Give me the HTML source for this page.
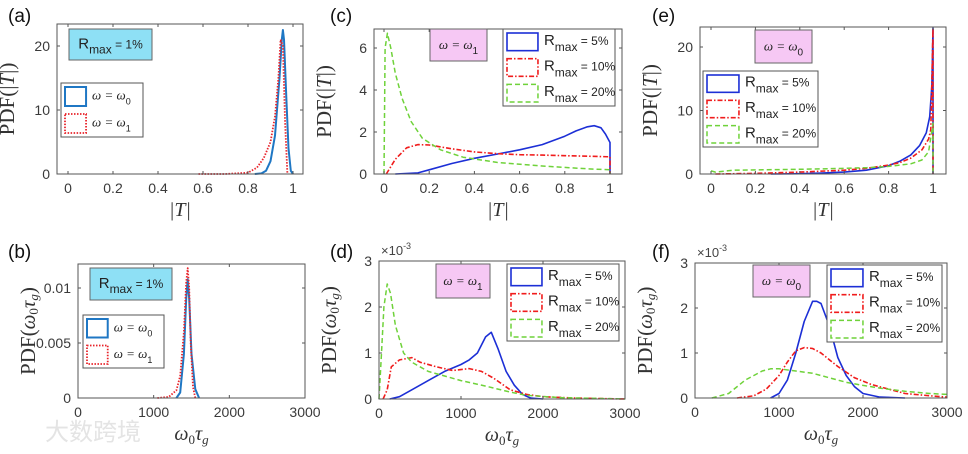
<!DOCTYPE html>
<html><head><meta charset="utf-8"><style>
body{margin:0;background:#fff;}
svg{display:block;font-family:"Liberation Sans",sans-serif;}
</style></head><body>
<svg id="fig" width="968" height="454" viewBox="0 0 968 454" xmlns="http://www.w3.org/2000/svg">
<text x="45" y="440" font-size="24" fill="#e4e4e4" font-family="Liberation Sans, Noto Sans CJK SC, sans-serif">大数跨境</text>
</svg>
<script>
// ---------- data ----------
const aX0=[0.83,0.86,0.88,0.9,0.92,0.94,0.95,0.955,0.96,0.97,0.98,0.99,1.0];
const aY0=[0,0.1,0.5,2,6,15,21,22.5,21,12,4,0.5,0];
const aX1=[0.58,0.7,0.8,0.84,0.87,0.9,0.92,0.935,0.945,0.955,0.965,0.975];
const aY1=[0,0,0.2,1,2.5,5,9,15,21,20,8,0];
const cX5=[0.05,0.15,0.2,0.3,0.4,0.5,0.6,0.7,0.8,0.85,0.9,0.93,0.96,0.98,1.0,1.0];
const cY5=[0,0.05,0.2,0.5,0.75,0.95,1.15,1.4,1.8,2.05,2.25,2.3,2.2,1.9,1.5,0];
const cX10=[0.01,0.05,0.1,0.15,0.2,0.3,0.4,0.5,0.6,0.7,0.8,0.9,1,1];
const cY10=[0,0.7,1.25,1.4,1.38,1.2,1.05,0.97,0.92,0.9,0.87,0.85,0.82,0];
const cX20=[0,0.005,0.015,0.03,0.05,0.08,0.12,0.17,0.25,0.35,0.5,0.7,0.9,1,1];
const cY20=[0,6,6.7,6,4.8,3.6,2.5,1.7,1.15,0.8,0.55,0.38,0.25,0.2,0];
const eX5=[0.27,0.4,0.5,0.6,0.7,0.8,0.85,0.9,0.94,0.97,0.985,0.995,1.0,1.0];
const eY5=[0,0.05,0.15,0.3,0.6,1.3,2,3,4.5,6.5,9,14,23,0];
const eX10=[0.02,0.2,0.4,0.6,0.7,0.8,0.85,0.9,0.95,0.98,0.99,1,1];
const eY10=[0,0.1,0.3,0.6,0.9,1.4,1.8,2.5,3.8,5.5,7,23,0];
const eX20=[0,0.02,0.1,0.3,0.5,0.7,0.8,0.9,0.95,0.98,1,1];
const eY20=[0.5,0.3,0.6,0.7,0.8,1,1.2,1.6,2.2,3.5,8,0];
const bX0=[1300,1350,1400,1430,1450,1470,1500,1550,1600];
const bY0=[0,0.0005,0.004,0.009,0.0108,0.009,0.004,0.0008,0];
const bX1=[1050,1200,1300,1350,1400,1430,1450,1470,1490,1520,1550];
const bY1=[0,0.0001,0.0007,0.002,0.006,0.0105,0.0118,0.01,0.005,0.001,0];
const dX5=[130,250,400,600,800,1000,1100,1200,1300,1370,1450,1550,1650,1750,1850,2000];
const dY5=[0,0.05,0.2,0.4,0.6,0.75,0.85,1.0,1.35,1.45,1.1,0.6,0.3,0.1,0.02,0];
const dX10=[50,100,150,250,400,500,700,900,1100,1250,1400,1600,1800,2000,2400,3000];
const dY10=[0,0.2,0.7,0.85,0.9,0.8,0.7,0.62,0.66,0.6,0.45,0.2,0.1,0.05,0.02,0];
const dX20=[0,30,60,100,140,200,300,400,600,800,1000,1300,1600,1800,2200,3000];
const dY20=[0,1,2,2.5,2.3,1.6,1.0,0.8,0.6,0.5,0.4,0.28,0.15,0.08,0.03,0];
const fX5=[900,1000,1100,1200,1300,1400,1450,1500,1600,1700,1800,1900,2000,2200,2500];
const fY5=[0,0.1,0.4,1.0,1.7,2.15,2.15,2.1,1.6,0.9,0.5,0.25,0.1,0.02,0];
const fX10=[500,700,850,1000,1100,1200,1300,1400,1500,1700,1900,2100,2300,2500,2800,3000];
const fY10=[0,0.05,0.2,0.5,0.8,1.05,1.12,1.1,1.0,0.7,0.45,0.3,0.2,0.1,0.05,0.02];
const fX20=[200,400,600,800,900,1000,1200,1400,1600,1800,2000,2200,2500,2800,3000];
const fY20=[0,0.1,0.4,0.6,0.65,0.65,0.6,0.55,0.45,0.35,0.28,0.22,0.15,0.1,0.08];
const tTicksX=[0,0.2,0.4,0.6,0.8,1];
const tauTicksX=[0,1000,2000,3000];

const NS="http://www.w3.org/2000/svg";
const svg=document.getElementById('fig');
function mk(tag,attrs,parent,txt){const e=document.createElementNS(NS,tag);for(const k in attrs)e.setAttribute(k,attrs[k]);if(txt!==undefined)e.textContent=txt;(parent||svg).appendChild(e);return e;}
const STY={
 blue0:{stroke:'#1f77c4',dash:'',w:2},
 red1:{stroke:'#e8232a',dash:'1.5 1.5',w:1.8},
 b5:{stroke:'#1c2fd6',dash:'',w:1.6},
 r10:{stroke:'#f01c1c',dash:'5 2 1.5 2',w:1.6},
 g20:{stroke:'#6fd23a',dash:'5 3',w:1.5}
};
function panel(p){
 const g=mk('g',{});
 
 
 const L=p.box[0],T=p.box[1],R=p.box[2],B=p.box[3];
 const sx=v=>p.x0px+(v-p.xmin)/(p.xmax-p.xmin)*(p.x1px-p.x0px);
 const sy=v=>p.y0px-(v-p.ymin)/(p.ymax-p.ymin)*(p.y0px-p.y1px);
 p.series.forEach(s=>{
  const st=STY[s.sty];
  const pts=s.x.map((v,i)=>sx(v).toFixed(1)+','+sy(s.y[i]).toFixed(1)).join(' ');
  const pl=mk('polyline',{points:pts,fill:'none',stroke:st.stroke,'stroke-width':st.w,'stroke-dasharray':st.dash,'stroke-linejoin':'round'},g);
  
  
 });
 const r=mk('rect',{x:L,y:T,width:R-L,height:B-T,fill:'none',stroke:'#555','stroke-width':1},g);
 
 
 p.xt.forEach(v=>{const x=sx(v);
  mk('line',{x1:x,y1:B,x2:x,y2:B-3,stroke:'#555'},g);mk('line',{x1:x,y1:T,x2:x,y2:T+3,stroke:'#555'},g);
  const t=mk('text',{x:x,y:B+19,'font-size':14,'text-anchor':'middle',fill:'#3a3a3a'},g,String(v));
  
  
 });
 p.yt.forEach((v,i)=>{const y=sy(v);
  mk('line',{x1:L,y1:y,x2:L+3,y2:y,stroke:'#555'},g);mk('line',{x1:R,y1:y,x2:R-3,y2:y,stroke:'#555'},g);
  const t=mk('text',{x:L-7,y:y+5,'font-size':14,'text-anchor':'end',fill:'#3a3a3a'},g,p.ytl[i]);
  
  
 });
 const pl=mk('text',{x:p.lab[0],y:p.lab[1],'font-size':19,fill:'#111'},g,'('+p.id+')');
 
 
 const xt=mk('text',{x:(L+R)/2,y:B+42,'font-size':20,'text-anchor':'middle','font-family':'Liberation Serif, serif','font-style':'italic',fill:'#333'},g);
 
 
 if(p.tau){xt.innerHTML='ω<tspan font-size="13" dy="4" font-style="normal">0</tspan><tspan dy="-4">τ</tspan><tspan font-size="13" dy="4">g</tspan>';}
 else xt.textContent='|T|';
 const cy=(T+B)/2, cx=L-43;
 const yt=mk('text',{x:cx,y:cy,'font-size':21,'text-anchor':'middle','font-family':'Liberation Serif, serif',fill:'#333',transform:`rotate(-90 ${cx} ${cy})`},g);
 
 
 if(p.tau) yt.innerHTML='PDF(<tspan font-style="italic">ω</tspan><tspan font-size="13" dy="3">0</tspan><tspan dy="-3" font-style="italic">τ</tspan><tspan font-size="13" dy="3" font-style="italic">g</tspan><tspan dy="-3">)</tspan>';
 else yt.innerHTML='PDF(|<tspan font-style="italic">T</tspan>|)';
 if(p.exp){const e=mk('text',{x:L+2,y:T-6,'font-size':13,fill:'#444'},g);e.innerHTML='×10<tspan font-size="9" dy="-6">-3</tspan>';
  
  }
 const a=p.ann;
 const ab=mk('rect',{x:a.b[0],y:a.b[1],width:a.b[2]-a.b[0],height:a.b[3]-a.b[1],fill:a.fill,stroke:'#666'},g);
 
 
 const at=mk('text',{x:(a.b[0]+a.b[2])/2,y:(a.b[1]+a.b[3])/2+4,'text-anchor':'middle','font-size':a.rmax?15:13,fill:'#222'},g);
 
 
 if(a.rmax) at.innerHTML='R<tspan font-size="12" dy="5">max</tspan><tspan dy="-5" font-size="12"> = 1%</tspan>';
 else at.innerHTML='<tspan font-style="italic" font-family="Liberation Serif, serif">ω = ω</tspan><tspan font-size="10" dy="5">'+a.w+'</tspan>';
 const lg=p.leg, n=lg.items.length, lh=(lg.b[3]-lg.b[1])/n;
 const lr=mk('rect',{x:lg.b[0],y:lg.b[1],width:lg.b[2]-lg.b[0],height:lg.b[3]-lg.b[1],fill:'#fff',stroke:'#555'},g);
 
 
 lg.items.forEach((it,i)=>{
  const st=STY[it.sty];const y0=lg.b[1]+i*lh;
  const sw=(lg.b[2]-lg.b[0])*0.33;
  const s=mk('rect',{x:lg.b[0]+4,y:y0+4,width:sw-6,height:lh-8,fill:'none',stroke:st.stroke,'stroke-width':st.w,'stroke-dasharray':st.dash},g);
  
  
  const t=mk('text',{x:lg.b[0]+sw+4,y:y0+lh/2+3,'font-size':it.r?15:13,fill:'#222'},g);
  
  
  if(it.r) t.innerHTML='R<tspan font-size="12" dy="6">max</tspan><tspan dy="-6" font-size="12"> = '+it.r+'</tspan>';
  else t.innerHTML='<tspan font-style="italic" font-family="Liberation Serif, serif">ω = ω</tspan><tspan font-size="9" dy="5">'+it.w+'</tspan>';
 });
}
const r3=[{sty:'b5',r:'5%'},{sty:'r10',r:'10%'},{sty:'g20',r:'20%'}];
const w2=[{sty:'blue0',w:'0'},{sty:'red1',w:'1'}];
panel({id:'a',box:[57,24,303,174],xmin:0,xmax:1,x0px:68,x1px:293,ymin:0,ymax:20,y0px:174,y1px:46,
 xt:tTicksX,yt:[0,10,20],ytl:['0','10','20'],lab:[8,22],
 series:[{name:'omega0',sty:'blue0',x:aX0,y:aY0},{name:'omega1',sty:'red1',x:aX1,y:aY1}],
 ann:{b:[69,29,152,60],fill:'#8ee0f5',rmax:true},leg:{b:[61,83,143,137],items:w2}});
panel({id:'c',box:[374,29,622,174],xmin:0,xmax:1,x0px:384,x1px:610,ymin:0,ymax:6,y0px:174,y1px:48,
 xt:tTicksX,yt:[0,2,4,6],ytl:['0','2','4','6'],lab:[330,22],
 series:[{name:'r5',sty:'b5',x:cX5,y:cY5},{name:'r10',sty:'r10',x:cX10,y:cY10},{name:'r20',sty:'g20',x:cX20,y:cY20}],
 ann:{b:[430,29,487,61],fill:'#f6c8f4',w:'1'},leg:{b:[503,29,615,106],items:r3}});
panel({id:'e',box:[700,27,946,174],xmin:0,xmax:1,x0px:711,x1px:933,ymin:0,ymax:20,y0px:174,y1px:47,
 xt:tTicksX,yt:[0,10,20],ytl:['0','10','20'],lab:[652,22],
 series:[{name:'r5',sty:'b5',x:eX5,y:eY5},{name:'r10',sty:'r10',x:eX10,y:eY10},{name:'r20',sty:'g20',x:eX20,y:eY20}],
 ann:{b:[755,30,812,63],fill:'#f6c8f4',w:'0'},leg:{b:[703,71,818,147],items:r3}});
panel({id:'b',box:[78,264,305,398],xmin:0,xmax:3000,x0px:78,x1px:305,ymin:0,ymax:0.01,y0px:398,y1px:288,tau:true,
 xt:tauTicksX,yt:[0,0.005,0.01],ytl:['0','0.005','0.01'],lab:[8,258],
 series:[{name:'omega0',sty:'blue0',x:bX0,y:bY0},{name:'omega1',sty:'red1',x:bX1,y:bY1}],
 ann:{b:[90,268,172,300],fill:'#8ee0f5',rmax:true},leg:{b:[83,315,164,368],items:w2}});
panel({id:'d',box:[379,261,625,399],xmin:0,xmax:3000,x0px:379,x1px:625,ymin:0,ymax:3,y0px:399,y1px:261,tau:true,exp:true,
 xt:tauTicksX,yt:[0,1,2,3],ytl:['0','1','2','3'],lab:[330,258],
 series:[{name:'r5',sty:'b5',x:dX5,y:dY5},{name:'r10',sty:'r10',x:dX10,y:dY10},{name:'r20',sty:'g20',x:dX20,y:dY20}],
 ann:{b:[436,264,490,298],fill:'#f6c8f4',w:'1'},leg:{b:[507,264,619,341],items:r3}});
panel({id:'f',box:[695,263,947,398],xmin:0,xmax:3000,x0px:695,x1px:947,ymin:0,ymax:3,y0px:398,y1px:263,tau:true,exp:true,
 xt:tauTicksX,yt:[0,1,2,3],ytl:['0','1','2','3'],lab:[652,258],
 series:[{name:'r5',sty:'b5',x:fX5,y:fY5},{name:'r10',sty:'r10',x:fX10,y:fY10},{name:'r20',sty:'g20',x:fX20,y:fY20}],
 ann:{b:[753,265,810,297],fill:'#f6c8f4',w:'0'},leg:{b:[827,265,942,342],items:r3}});
</script>
</body></html>
